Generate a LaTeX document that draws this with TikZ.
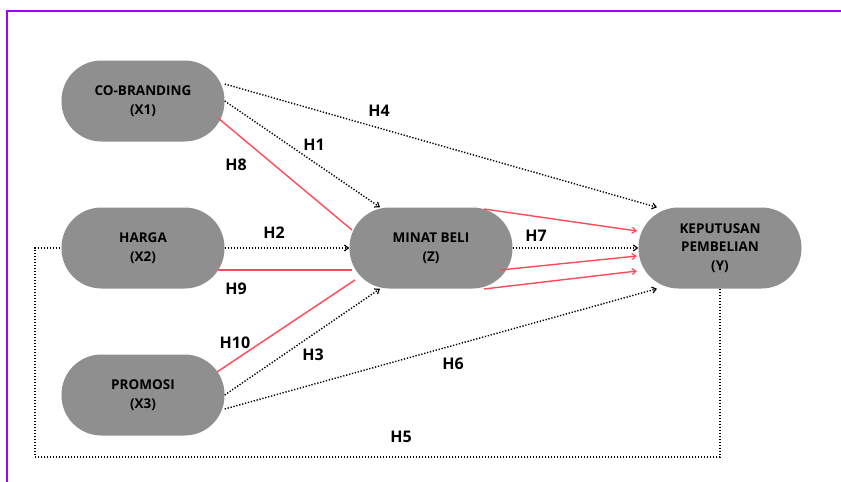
\documentclass[tikz,border=0pt]{standalone}
\usepackage{fontspec}
\setmainfont{Open Sans}
\usetikzlibrary{arrows.meta,calc}
\definecolor{boxgray}{HTML}{8F8F8F}
\definecolor{redline}{HTML}{FF4A5A}
\definecolor{framepurple}{HTML}{A000FF}
\begin{document}
\begin{tikzpicture}[x=1pt,y=-1pt,
  var/.style={draw=none,fill=boxgray,rounded corners=40pt,minimum width=163pt,minimum height=81pt,
    align=center,font=\fontsize{13.5}{18.5}\selectfont\bfseries,inner sep=0pt},
  dotline/.style={draw=black,line width=1.4pt,dash pattern=on 1.3pt off 1.7pt},
  redl/.style={draw=redline,line width=1.4pt},
  tip/.style={-{Straight Barb[length=4pt,width=6pt,line width=1.2pt]}},
  lbl/.style={font=\fontsize{16}{18}\selectfont\bfseries,inner sep=0pt}]
\useasboundingbox (0,0) rectangle (841,482);
\fill[white] (0,0) rectangle (841,482);
\draw[framepurple,line width=1.6pt] (841,11) -- (7,11) -- (7,482);

\node[var] (cb) at (143,101) {CO-BRANDING\\(X1)};
\node[var] (hg) at (143,248) {HARGA\\(X2)};
\node[var] (pr) at (143,395) {PROMOSI\\(X3)};
\node[var] (mb) at (431,248) {MINAT BELI\\(Z)};
\node[var] (kp) at (720,248) {KEPUTUSAN\\PEMBELIAN\\(Y)};

% dotted hypotheses
\draw[dotline,tip] ([yshift=17pt]cb.east) -- ([xshift=-63pt]kp.north);
\draw[dotline,tip] (cb.east) -- ([xshift=-51pt]mb.north);
\draw[dotline,tip] (hg.east) -- (mb.west);
\draw[dotline,tip] (pr.east) -- ([xshift=-51pt]mb.south);
\draw[dotline,tip] ([yshift=-14pt]pr.east) -- ([xshift=-63pt]kp.south);
\draw[dotline,tip] (mb.east) -- (kp.west);
\coordinate (b1) at (720,457);
\coordinate (b2) at (35,457);
\draw[dotline] (kp.south) -- (b1) -- (b2) |- (hg.west);

% red mediation lines
\draw[redl] ([shift={(75pt,-17pt)}]cb.center) -- ([shift={(-79pt,18pt)}]mb.center);
\draw[redl] ([shift={(75pt,-22pt)}]hg.center) -- ([shift={(-79pt,-22pt)}]mb.center);
\draw[redl] ([shift={(74pt,23pt)}]pr.center) -- ([shift={(-76pt,-32pt)}]mb.center);
\draw[redl,tip] ([shift={(53pt,39pt)}]mb.center) -- ([shift={(-83pt,17pt)}]kp.center);
\draw[redl,tip] ([shift={(69pt,-22pt)}]mb.center) -- ([shift={(-83pt,-8pt)}]kp.center);
\draw[redl,tip] ([shift={(53pt,-41pt)}]mb.center) -- ([shift={(-83pt,-23pt)}]kp.center);

% labels
\node[lbl] (l4) at (379,111) {H4};
\node[lbl] (l1) at (314,145) {H1};
\node[lbl] (l8) at (236,165) {H8};
\node[lbl] (l2) at (274,233) {H2};
\node[lbl] (l9) at (236,289) {H9};
\node[lbl] (l7) at (536,236) {H7};
\node[lbl] (l10) at (235,343) {H10};
\node[lbl] (l3) at (313,355) {H3};
\node[lbl] (l6) at (453,364) {H6};
\node[lbl] (l5) at (401,437) {H5};
\end{tikzpicture}
\end{document}
